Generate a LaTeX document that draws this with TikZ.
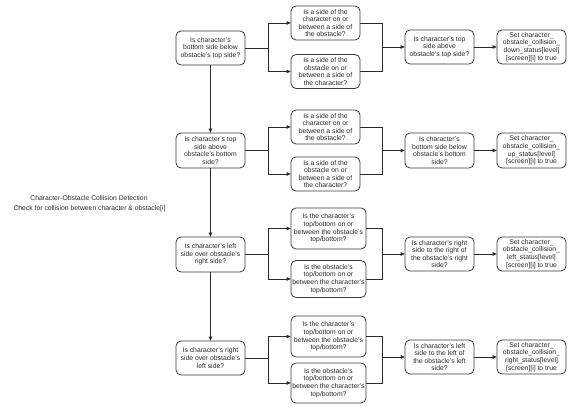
\documentclass[tikz,border=0pt]{standalone}
\usepackage{fontspec}
\setmainfont{Liberation Sans}
\usetikzlibrary{arrows.meta}
\definecolor{boxc}{HTML}{3A3A3A}
\definecolor{txtc}{HTML}{2A2A2A}
\definecolor{linec}{HTML}{2A2A2A}
\begin{document}
\begin{tikzpicture}[x=1pt,y=-1pt,
  box/.style={draw=boxc, line width=0.8pt, rounded corners=5pt, align=center, inner sep=0pt,
    font=\fontsize{6.8}{7.6}\selectfont, text=txtc, fill=white},
  w69/.style={minimum width=69pt},
  w75/.style={minimum width=75pt},
  conn/.style={draw=linec, line width=0.8pt},
  arr/.style={conn, -{Triangle[length=4pt,width=3.6pt]}},
  title/.style={font=\fontsize{6.8}{7.6}\selectfont, text=txtc, inner sep=0pt},
]
\useasboundingbox (0,0) rectangle (575,411);

% titles
\node[title] (t1) at (89,198) {Character-Obstacle Collision Detection};
\node[title] (t2) at (89.5,209) {Check for collision between character \& obstacle[i]};

% ---------- row 1 ----------
\node[box,w69,minimum height=34pt] (a1) at (210.5,48) {Is character's\\bottom side below\\obstacle's top side?};
\node[box,w69,minimum height=34pt] (u1) at (325.5,23) {Is a side of the\\character on or\\between a side of\\the obstacle?};
\node[box,w69,minimum height=34pt] (l1) at (325.5,71.5) {Is a side of the\\obstacle on or\\between a side of\\the character?};
\node[box,w69,minimum height=34pt] (c1) at (439.5,47) {Is character's top\\side above\\obstacle's top side?};
\node[box,w69,minimum height=34pt] (d1) at (531.5,47) {Set character\_\\obstacle\_collision\_\\down\_status[level]\\{}[screen][i] to true};

% ---------- row 2 ----------
\node[box,w69,minimum height=35pt] (a2) at (210.5,150.5) {Is character's top\\side above\\obstacle's bottom\\side?};
\node[box,w69,minimum height=34pt] (u2) at (325.5,127) {Is a side of the\\character on or\\between a side of\\the obstacle?};
\node[box,w69,minimum height=34pt] (l2) at (325.5,174) {Is a side of the\\obstacle on or\\between a side of\\the character?};
\node[box,w69,minimum height=35pt] (c2) at (439.5,150.5) {Is character's\\bottom side below\\obstacle's bottom\\side?};
\node[box,w69,minimum height=35pt] (d2) at (531.5,150.5) {Set character\_\\obstacle\_collision\_\\up\_status[level]\\{}[screen][i] to true};

% ---------- row 3 ----------
\node[box,w69,minimum height=35pt] (a3) at (210.5,254.5) {Is character's left\\side over obstacle's\\right side?};
\node[box,w75,minimum height=41pt] (u3) at (328.5,228.5) {Is the character's\\top/bottom on or\\between the obstacle's\\top/bottom?};
\node[box,w75,minimum height=37pt] (l3) at (328.5,279) {Is the obstacle's\\top/bottom on or\\between the character's\\top/bottom?};
\node[box,w69,minimum height=34pt] (c3) at (439.5,254) {Is character's right\\side to the right of\\the obstacle's right\\side?};
\node[box,w69,minimum height=34pt] (d3) at (531.5,254) {Set character\_\\obstacle\_collision\_\\left\_status[level]\\{}[screen][i] to true};

% ---------- row 4 ----------
\node[box,w69,minimum height=34pt] (a4) at (210.5,358) {Is character's right\\side over obstacle's\\left side?};
\node[box,w75,minimum height=41pt] (u4) at (328.5,336.5) {Is the character's\\top/bottom on or\\between the obstacle's\\top/bottom?};
\node[box,w75,minimum height=40pt] (l4) at (328.5,383) {Is the obstacle's\\top/bottom on or\\between the character's\\top/bottom?};
\node[box,w69,minimum height=34pt] (c4) at (439.5,357) {Is character's left\\side to the left of\\the obstacle's left\\side?};
\node[box,w69,minimum height=34pt] (d4) at (531.5,357) {Set character\_\\obstacle\_collision\_\\right\_status[level]\\{}[screen][i] to true};

% junction and merge points
\coordinate (j1) at (268,48);
\coordinate (j2) at (268,150.5);
\coordinate (j3) at (268,254.5);
\coordinate (j4) at (268,358);
\coordinate (m1) at (382,47);
\coordinate (m2) at (382,150.5);
\coordinate (m3) at (382,254);
\coordinate (m4) at (382,357);

% vertical chain
\draw[arr] (a1) -- (a2);
\draw[arr] (a2) -- (a3);
\draw[arr] (a3) -- (a4);

% rows
\foreach \r in {1,2,3,4}{
  \draw[conn] (a\r.east) -- (j\r);
  \draw[arr] (j\r) |- (u\r.west);
  \draw[arr] (j\r) |- (l\r.west);
  \draw[conn] (u\r.east) -| (m\r);
  \draw[conn] (l\r.east) -| (m\r);
  \draw[arr] (m\r) -- (c\r.west);
  \draw[arr] (c\r) -- (d\r);
}
\end{tikzpicture}
\end{document}
